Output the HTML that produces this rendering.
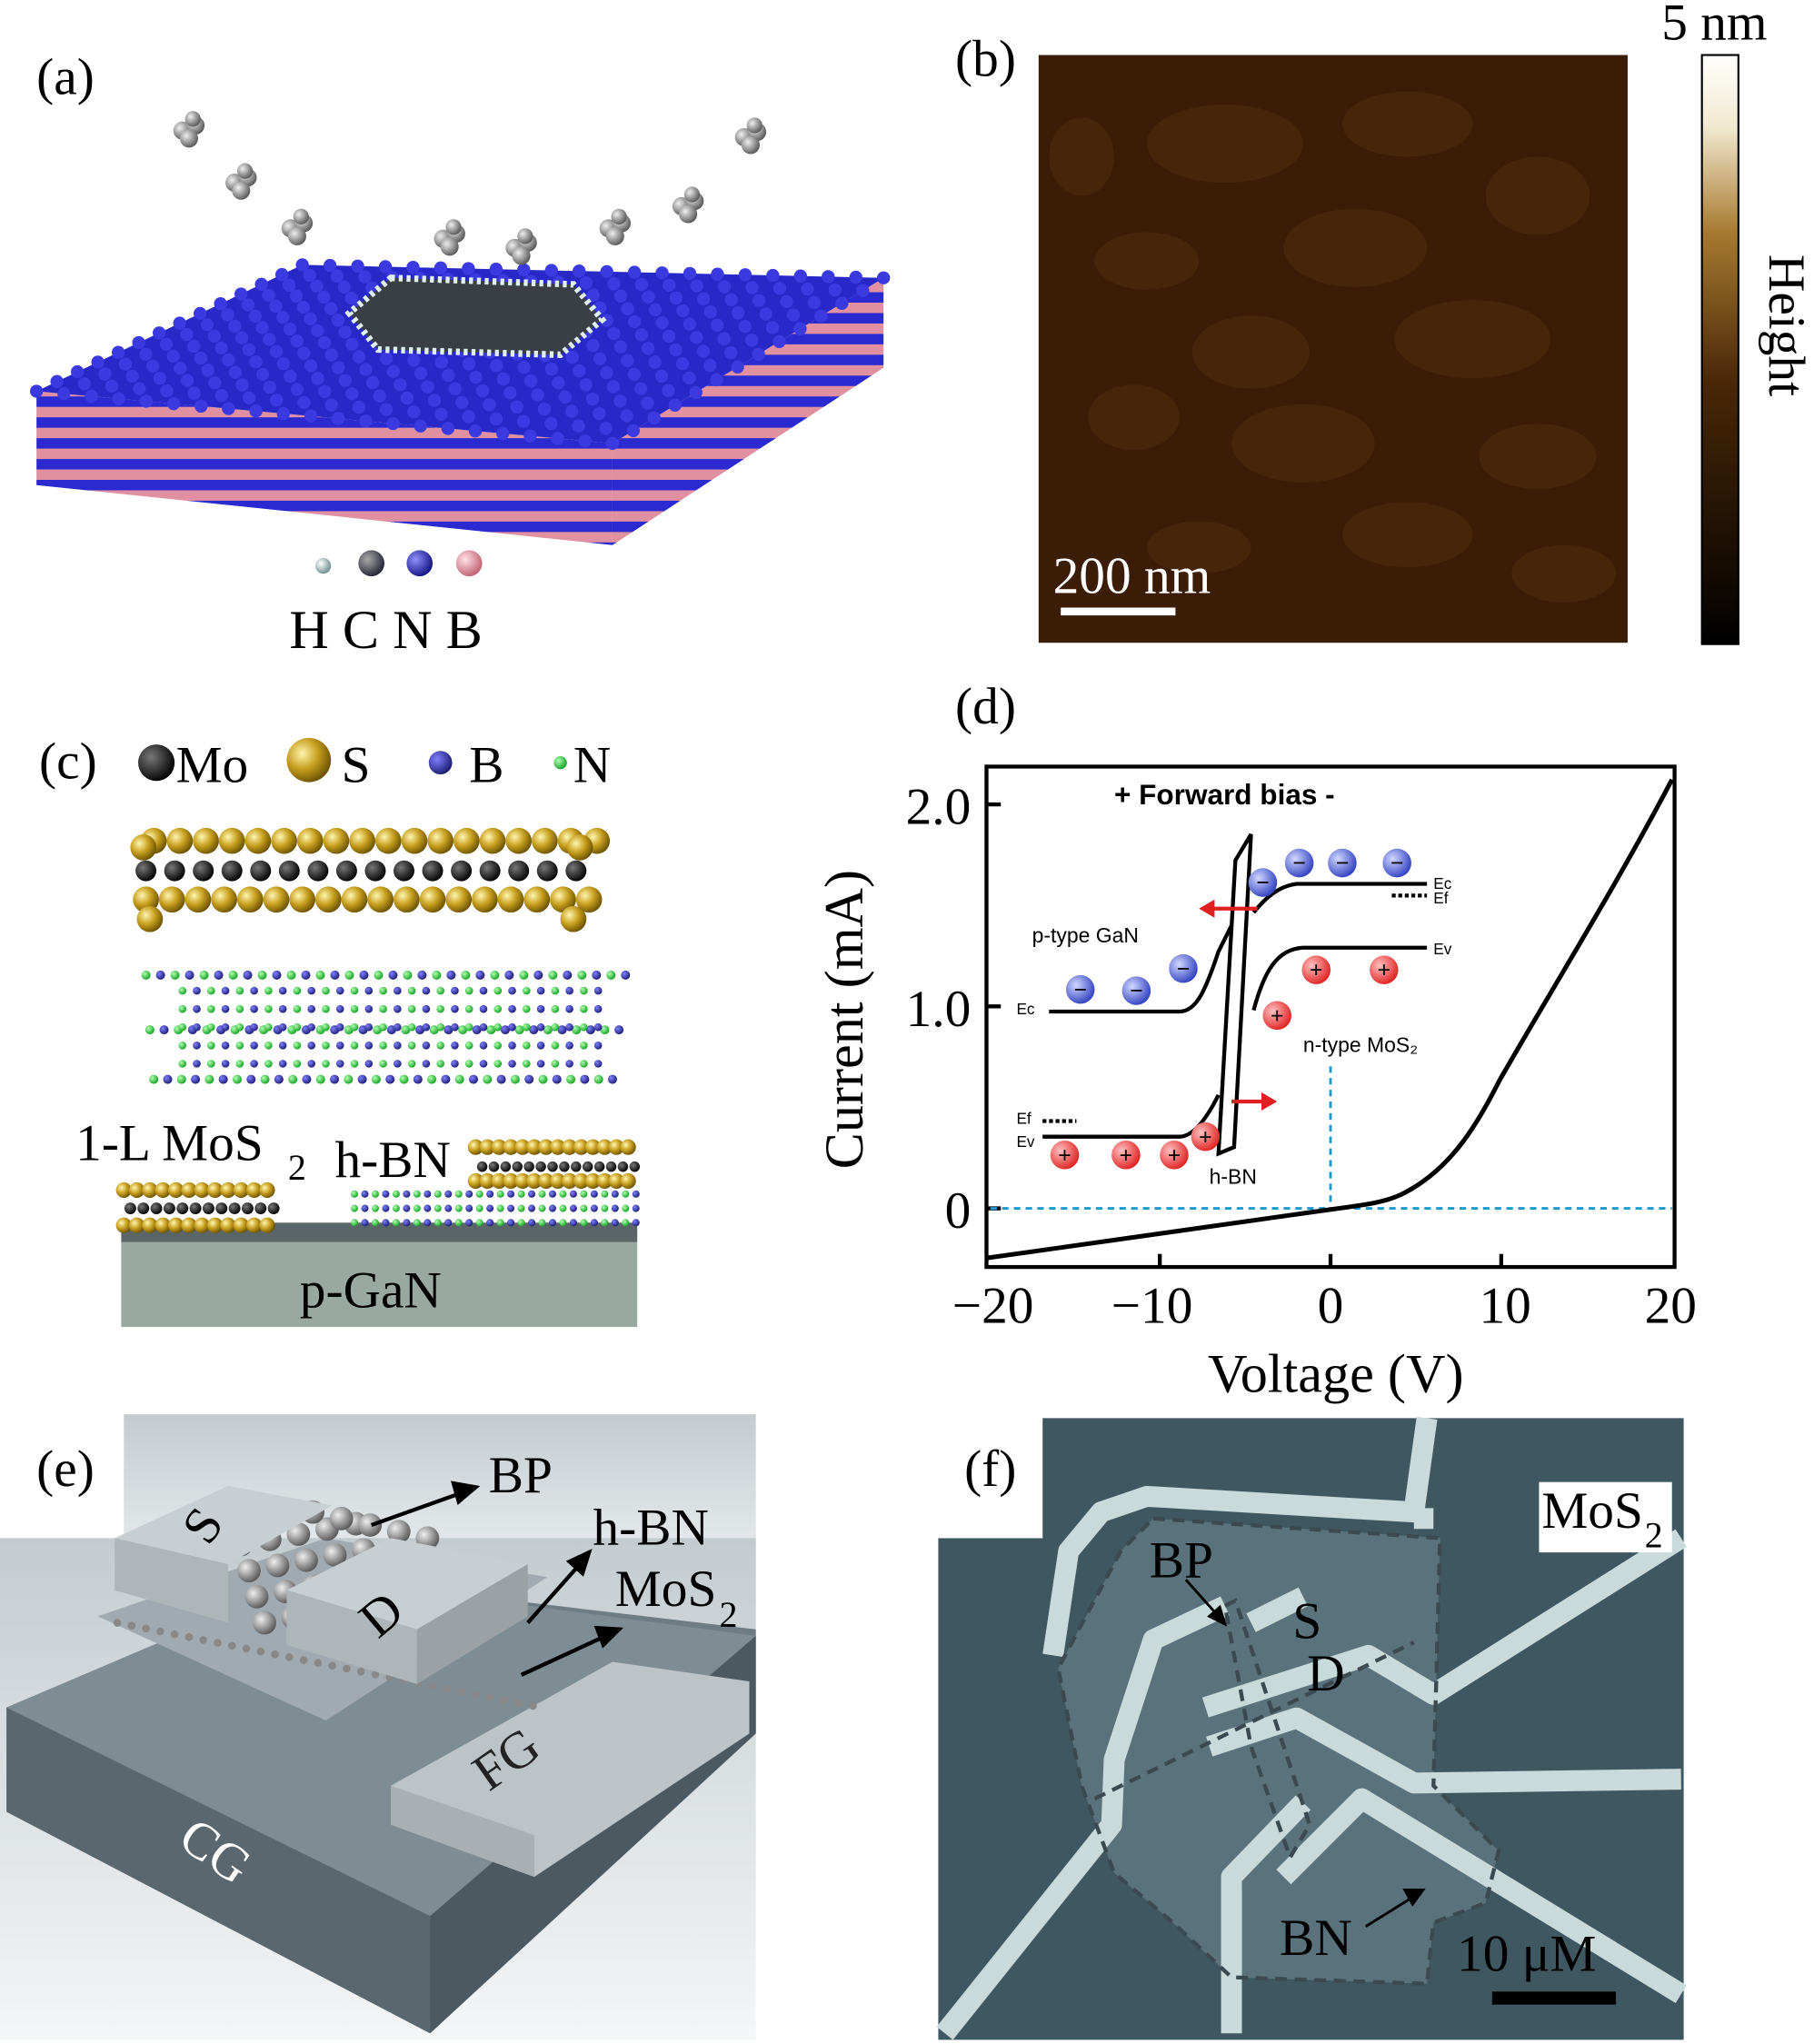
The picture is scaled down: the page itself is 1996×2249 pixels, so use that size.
<!DOCTYPE html>
<html><head><meta charset="utf-8">
<style>
html,body{margin:0;padding:0;background:#fff;}
svg{display:block;}
text{font-family:"Liberation Serif",serif;}
text.s{font-family:"Liberation Sans",sans-serif;}
</style></head>
<body>
<svg id="sv" width="1996" height="2249" viewBox="0 0 1392 1568" xmlns="http://www.w3.org/2000/svg">
<defs>
<linearGradient id="cb" x1="0" y1="0" x2="0" y2="1">
<stop offset="0" stop-color="#ffffff"/><stop offset="0.12" stop-color="#f2ead0"/><stop offset="0.3" stop-color="#a87a30"/><stop offset="0.55" stop-color="#4a2808"/><stop offset="1" stop-color="#000"/>
</linearGradient>
<linearGradient id="ebg" x1="0" y1="0" x2="0" y2="1">
<stop offset="0" stop-color="#c4ccd0"/><stop offset="1" stop-color="#f4f6f7"/>
</linearGradient>
<radialGradient id="gy" cx="0.35" cy="0.35" r="0.7"><stop offset="0" stop-color="#fff6b0"/><stop offset="0.5" stop-color="#c8a020"/><stop offset="1" stop-color="#6a5000"/></radialGradient>
<radialGradient id="gk" cx="0.35" cy="0.35" r="0.7"><stop offset="0" stop-color="#777"/><stop offset="1" stop-color="#000"/></radialGradient>
<radialGradient id="gb" cx="0.35" cy="0.35" r="0.7"><stop offset="0" stop-color="#8080ff"/><stop offset="1" stop-color="#1a1a70"/></radialGradient>
<radialGradient id="gg" cx="0.35" cy="0.35" r="0.7"><stop offset="0" stop-color="#b0ffb0"/><stop offset="1" stop-color="#10a020"/></radialGradient>
<radialGradient id="gw" cx="0.35" cy="0.35" r="0.7"><stop offset="0" stop-color="#fff"/><stop offset="1" stop-color="#6a8a8a"/></radialGradient>
<radialGradient id="gc" cx="0.35" cy="0.35" r="0.7"><stop offset="0" stop-color="#aaa"/><stop offset="1" stop-color="#223"/></radialGradient>
<radialGradient id="gbl" cx="0.35" cy="0.35" r="0.7"><stop offset="0" stop-color="#9090ff"/><stop offset="1" stop-color="#101080"/></radialGradient>
<radialGradient id="gp" cx="0.35" cy="0.35" r="0.7"><stop offset="0" stop-color="#ffe0e8"/><stop offset="1" stop-color="#c06070"/></radialGradient>
<radialGradient id="gr" cx="0.35" cy="0.35" r="0.7"><stop offset="0" stop-color="#ffc0c0"/><stop offset="1" stop-color="#e02020"/></radialGradient>
<radialGradient id="gbe" cx="0.35" cy="0.35" r="0.7"><stop offset="0" stop-color="#d0d8ff"/><stop offset="1" stop-color="#3040c0"/></radialGradient>
<radialGradient id="gs" cx="0.35" cy="0.35" r="0.7"><stop offset="0" stop-color="#eee"/><stop offset="1" stop-color="#555"/></radialGradient>
<pattern id="stripe" width="8" height="16" patternUnits="userSpaceOnUse"><rect width="8" height="16" fill="#2a2ad0"/><rect y="8" width="8" height="8" fill="#e090a0"/></pattern>
</defs>

<!-- (a) -->
<text x="28" y="72" font-size="40">(a)</text>
<polygon points="28,300 470,340 470,418 28,372" fill="url(#stripe)"/>
<polygon points="470,340 678,213 678,282 470,418" fill="url(#stripe)"/>
<polygon points="28,300 232,203 678,213 470,340" fill="#2828c8"/>
<g id="topdots"></g>
<polygon points="300,213 440,218 462,245 430,272 290,268 268,240" fill="#3a3f45" stroke="#e0f0f0" stroke-width="5" stroke-dasharray="3 3"/>
<g id="mols"></g>
<circle cx="248" cy="434" r="6" fill="url(#gw)"/>
<circle cx="285" cy="432" r="10" fill="url(#gc)"/>
<circle cx="322" cy="432" r="10" fill="url(#gbl)"/>
<circle cx="360" cy="432" r="10" fill="url(#gp)"/>
<text x="222" y="497" font-size="42">H C N B</text>

<!-- (b) -->
<text x="733" y="58" font-size="40">(b)</text>
<rect x="797" y="42" width="452" height="451" fill="#3a1c07"/>
<g fill="#48280c" opacity="0.9">
<ellipse cx="940" cy="110" rx="60" ry="30"/><ellipse cx="1080" cy="95" rx="50" ry="25"/><ellipse cx="1180" cy="150" rx="40" ry="30"/>
<ellipse cx="880" cy="200" rx="40" ry="22"/><ellipse cx="1040" cy="190" rx="55" ry="30"/><ellipse cx="960" cy="270" rx="45" ry="28"/>
<ellipse cx="1130" cy="260" rx="60" ry="30"/><ellipse cx="1000" cy="340" rx="55" ry="30"/><ellipse cx="1180" cy="350" rx="45" ry="25"/>
<ellipse cx="870" cy="320" rx="35" ry="25"/><ellipse cx="1080" cy="410" rx="50" ry="25"/><ellipse cx="920" cy="420" rx="40" ry="20"/>
<ellipse cx="1200" cy="440" rx="40" ry="22"/><ellipse cx="830" cy="120" rx="25" ry="30"/>
</g>
<text x="808" y="455" font-size="40" fill="#fff">200 nm</text>
<rect x="814" y="466" width="88" height="6" fill="#fff"/>
<rect x="1306" y="42" width="28" height="452" fill="url(#cb)" stroke="#000" stroke-width="1.5"/>
<text x="1275" y="30" font-size="40">5 nm</text>
<text x="0" y="0" font-size="40" transform="translate(1358,195) rotate(90)">Height</text>

<!-- (c) -->
<text x="30" y="597" font-size="40">(c)</text>
<circle cx="120" cy="585" r="14" fill="url(#gk)"/><text x="135" y="600" font-size="40">Mo</text>
<circle cx="237" cy="583" r="17" fill="url(#gy)"/><text x="262" y="600" font-size="40">S</text>
<circle cx="338" cy="585" r="9" fill="url(#gb)"/><text x="360" y="600" font-size="40">B</text>
<circle cx="430" cy="585" r="5" fill="url(#gg)"/><text x="440" y="600" font-size="40">N</text>
<g id="mos2"></g>
<g id="hbn"></g>
<text x="58" y="890" font-size="40">1-L MoS</text><text x="221" y="905" font-size="28">2</text>
<text x="257" y="903" font-size="40">h-BN</text>
<rect x="93" y="938" width="396" height="15" fill="#5a6568"/>
<rect x="93" y="953" width="396" height="65" fill="#9aa8a2"/>
<text x="230" y="1003" font-size="40">p-GaN</text>
<g id="cbot"></g>

<!-- (d) -->
<text x="733" y="555" font-size="40">(d)</text>
<rect x="757" y="588" width="528" height="384" fill="none" stroke="#000" stroke-width="3"/>
<g stroke="#000" stroke-width="3">
<line x1="757" y1="617" x2="768" y2="617"/><line x1="757" y1="772" x2="768" y2="772"/><line x1="757" y1="927" x2="768" y2="927"/>
<line x1="890" y1="972" x2="890" y2="962"/><line x1="1021" y1="972" x2="1021" y2="962"/><line x1="1152" y1="972" x2="1152" y2="962"/>
</g>
<g font-size="40" text-anchor="end"><text x="745" y="632">2.0</text><text x="745" y="787">1.0</text><text x="745" y="942">0</text></g>
<g font-size="40" text-anchor="middle"><text x="762" y="1015">−20</text><text x="884" y="1015">−10</text><text x="1021" y="1015">0</text><text x="1155" y="1015">10</text><text x="1282" y="1015">20</text></g>
<text x="1025" y="1068" font-size="42" text-anchor="middle">Voltage (V)</text>
<text x="0" y="0" font-size="42" text-anchor="middle" transform="translate(662,782) rotate(-90)">Current (mA)</text>
<line x1="760" y1="927" x2="1283" y2="927" stroke="#1a9ad0" stroke-width="2" stroke-dasharray="5 4"/>
<line x1="1021" y1="818" x2="1021" y2="927" stroke="#1a9ad0" stroke-width="2" stroke-dasharray="5 4"/>
<path d="M758,965 L1020,928 C1050,924 1065,922 1078,915 C1110,898 1130,870 1150,830 C1190,760 1240,680 1283,598" fill="none" stroke="#000" stroke-width="3.5"/>
<!-- inset -->
<g>
<text x="855" y="617" font-size="22" font-weight="bold" class="s">+ Forward bias -</text>
<path d="M805,776 L905,776 C918,776 925,760 935,730 L945,710" fill="none" stroke="#000" stroke-width="3"/>
<path d="M800,872 L905,872 C915,872 925,860 935,840" fill="none" stroke="#000" stroke-width="3"/>
<polygon points="935,885 948,660 960,640 947,880" fill="none" stroke="#000" stroke-width="3"/>
<path d="M962,700 C970,690 980,680 995,678 L1095,678" fill="none" stroke="#000" stroke-width="3"/>
<path d="M962,775 C970,745 980,728 1000,727 L1095,727" fill="none" stroke="#000" stroke-width="3"/>
<line x1="1068" y1="687" x2="1095" y2="687" stroke="#000" stroke-width="3" stroke-dasharray="3 2"/>
<line x1="800" y1="860" x2="826" y2="860" stroke="#000" stroke-width="3" stroke-dasharray="3 2"/>
<g font-size="12"><text class="s" x="1100" y="682">Ec</text><text class="s" x="1100" y="693">Ef</text><text class="s" x="1100" y="732">Ev</text><text class="s" x="780" y="778">Ec</text><text class="s" x="780" y="862">Ef</text><text class="s" x="780" y="880">Ev</text></g>
<text class="s" x="792" y="723" font-size="16">p-type GaN</text>
<text class="s" x="1000" y="807" font-size="16">n-type MoS₂</text>
<text class="s" x="928" y="908" font-size="16">h-BN</text>
<line x1="965" y1="697" x2="925" y2="697" stroke="#e02020" stroke-width="3"/><polygon points="920,697 932,690 932,704" fill="#e02020"/>
<line x1="945" y1="845" x2="975" y2="845" stroke="#e02020" stroke-width="3"/><polygon points="980,845 968,838 968,852" fill="#e02020"/>
</g>
<g id="charges"></g>

<!-- (e) -->
<rect x="95" y="1085" width="485" height="150" fill="url(#ebg)"/>
<rect x="0" y="1180" width="580" height="385" fill="url(#ebg)"/>
<polygon points="5,1310 240,1210 580,1250 580,1330 330,1560 5,1390" fill="#6e7c84"/>
<polygon points="5,1310 330,1470 330,1560 5,1390" fill="#5a676e"/>
<polygon points="330,1470 580,1255 580,1330 330,1560" fill="#4c5960"/>
<polygon points="5,1310 240,1210 580,1255 330,1470" fill="#7e8c93"/>
<polygon points="300,1370 470,1275 575,1290 575,1330 410,1440 300,1400" fill="#bcc4c8"/>
<polygon points="300,1370 410,1408 410,1440 300,1400" fill="#a8b0b4"/>
<polygon points="75,1240 250,1180 420,1210 250,1320" fill="#a0aab0"/>
<g id="eatoms"></g>
<polygon points="88,1180 175,1140 255,1155 175,1200" fill="#c7cfd3"/>
<polygon points="88,1180 175,1200 175,1245 88,1220" fill="#aeb6ba"/>
<polygon points="220,1220 300,1180 405,1200 320,1250" fill="#c7cfd3"/>
<polygon points="220,1220 320,1250 320,1292 220,1262" fill="#aeb6ba"/>
<polygon points="320,1250 405,1200 405,1240 320,1292" fill="#9aa2a6"/>
<text x="0" y="0" font-size="40" transform="translate(160,1187) rotate(-55)">S</text>
<text x="0" y="0" font-size="40" transform="translate(290,1258) rotate(-40)">D</text>
<text x="0" y="0" font-size="40" fill="#222" transform="translate(375,1375) rotate(-35)">FG</text>
<text x="0" y="0" font-size="40" fill="#fff" transform="translate(135,1415) rotate(35)">CG</text>
<text x="28" y="1140" font-size="40">(e)</text>
<text x="375" y="1145" font-size="40">BP</text>
<text x="455" y="1185" font-size="40">h-BN</text>
<text x="472" y="1232" font-size="40">MoS</text><text x="552" y="1248" font-size="28">2</text>
<g stroke="#000" stroke-width="3" fill="#000">
<line x1="285" y1="1170" x2="355" y2="1145"/><polygon points="365,1141 348,1138 352,1152"/>
<line x1="405" y1="1245" x2="445" y2="1200"/><polygon points="452,1191 437,1198 447,1207"/>
<line x1="400" y1="1285" x2="465" y2="1255"/><polygon points="475,1250 458,1249 463,1262"/>
</g>

<!-- (f) -->
<polygon points="800,1088 1292,1088 1292,1565 720,1565 720,1180 800,1180" fill="#3f5761"/>
<polygon points="885,1165 1105,1180 1100,1370 1150,1420 1140,1460 1100,1475 1095,1522 945,1517 900,1475 855,1437 830,1370 812,1280 860,1190" fill="#5a727b"/>
<g stroke="#c9dadb" stroke-width="16" fill="none" stroke-linejoin="round">
<path d="M808,1270 L820,1190 L845,1160 L880,1148 L1085,1160 L1095,1088"/>
<path d="M1085,1165 L1100,1165"/>
<path d="M940,1232 L885,1258 L855,1350 L853,1400 L725,1560"/>
<path d="M1000,1225 L960,1245"/>
<path d="M925,1310 L1050,1270 L1100,1300 L1290,1180"/>
<path d="M928,1340 L995,1318 L1085,1368 L1290,1365"/>
<path d="M1000,1383 L945,1440 L945,1560"/>
<path d="M985,1440 L1045,1380 L1290,1530"/>
</g>
<g stroke="#3a4a50" stroke-width="3" fill="none" stroke-dasharray="9 6">
<polygon points="885,1165 1105,1180 1100,1370 1150,1420 1140,1460 1100,1475 1095,1522 945,1517 900,1475 855,1437 830,1370 812,1280 860,1190"/>
<polygon points="940,1232 948,1228 1005,1400 990,1425 960,1340"/>
<line x1="840" y1="1380" x2="1085" y2="1260"/>
</g>
<rect x="720" y="1088" width="80" height="92" fill="#fff"/>
<text x="740" y="1140" font-size="40">(f)</text>
<rect x="1181" y="1137" width="102" height="54" fill="#fff"/>
<text x="1183" y="1172" font-size="40">MoS</text><text x="1262" y="1187" font-size="28">2</text>
<text x="882" y="1210" font-size="40">BP</text>
<text x="992" y="1257" font-size="40">S</text>
<text x="1003" y="1297" font-size="40">D</text>
<text x="982" y="1500" font-size="40">BN</text>
<text x="1118" y="1512" font-size="40">10 μM</text>
<rect x="1145" y="1528" width="95" height="10" fill="#000"/>
<g stroke="#000" stroke-width="2" fill="#000">
<line x1="910" y1="1212" x2="935" y2="1240"/><polygon points="940,1246 928,1240 936,1233"/>
<line x1="1048" y1="1478" x2="1085" y2="1455"/><polygon points="1092,1450 1078,1450 1084,1461"/>
</g>
</svg>
<script>
var NS="http://www.w3.org/2000/svg";
function C(g,x,y,r,f){var c=document.createElementNS(NS,"circle");c.setAttribute("cx",x);c.setAttribute("cy",y);c.setAttribute("r",r);c.setAttribute("fill",f);document.getElementById(g).appendChild(c);}
for(var i=0;i<22;i++)for(var j=0;j<14;j++){var u=i/21,v=j/13;
var x=(1-u)*(1-v)*28+u*(1-v)*470+u*v*678+(1-u)*v*232;
var y=(1-u)*(1-v)*300+u*(1-v)*340+u*v*213+(1-u)*v*203;C("topdots",x,y,5,"#3a3ae0");}
[[145,100],[185,140],[228,175],[345,183],[400,190],[472,175],[528,158],[576,105]].forEach(function(p){
C("mols",p[0]-5,p[1],7,"url(#gs)");C("mols",p[0]+5,p[1]-4,7,"url(#gs)");C("mols",p[0],p[1]+6,7,"url(#gs)");C("mols",p[0]+3,p[1]-9,6,"url(#gs)");});
for(var i=0;i<16;i++){var x=112+i*22;C("mos2",x,668,8,"url(#gk)");}
for(var i=0;i<18;i++){var x=110+i*20;C("mos2",x+8,645,10,"url(#gy)");C("mos2",x+2,690,10,"url(#gy)");}
C("mos2",110,650,10,"url(#gy)");C("mos2",445,650,10,"url(#gy)");C("mos2",115,705,10,"url(#gy)");C("mos2",440,705,10,"url(#gy)");
[[748,112,480],[790,115,475],[828,118,470]].forEach(function(L){for(var i=0;i<34;i++){var x=L[1]+i*(L[2]-L[1])/33;C("hbn",x,L[0],3.5,i%2?"url(#gb)":"url(#gg)");}});
for(var k=0;k<5;k++){for(var i=0;i<30;i++){var x=140+i*11;C("hbn",x,760+k*14,3,i%2?"url(#gb)":"url(#gg)");}}
for(var i=0;i<12;i++){C("cbot",95+i*10,913,6,"url(#gy)");C("cbot",95+i*10,940,6,"url(#gy)");C("cbot",100+i*10,927,4.5,"url(#gk)");}
for(var i=0;i<14;i++){C("cbot",365+i*9,880,6,"url(#gy)");C("cbot",370+i*9,895,4,"url(#gk)");C("cbot",365+i*9,906,6,"url(#gy)");}
for(var k=0;k<3;k++)for(var i=0;i<28;i++){C("cbot",272+i*8,916+k*11,2.8,i%2?"url(#gb)":"url(#gg)");}
[[829,759],[872,760],[908,743],[969,677],[997,662],[1030,662],[1072,662]].forEach(function(p){C("charges",p[0],p[1],11,"url(#gbe)");var t=document.createElementNS(NS,"text");t.setAttribute("x",p[0]);t.setAttribute("y",p[1]+6);t.setAttribute("font-size","18");t.setAttribute("text-anchor","middle");t.setAttribute("font-weight","bold");t.textContent="−";document.getElementById("charges").appendChild(t);});
[[817,886],[864,886],[901,886],[925,872],[980,779],[1010,744],[1062,744]].forEach(function(p){C("charges",p[0],p[1],11,"url(#gr)");var t=document.createElementNS(NS,"text");t.setAttribute("x",p[0]);t.setAttribute("y",p[1]+6);t.setAttribute("font-size","18");t.setAttribute("text-anchor","middle");t.setAttribute("font-weight","bold");t.textContent="+";document.getElementById("charges").appendChild(t);});
for(var k=0;k<4;k++)for(var i=0;i<5;i++){C("eatoms",185+i*22+k*6,1185+k*20-i*4,9,"url(#gs)");}
for(var i=0;i<5;i++)C("eatoms",240+i*22,1190+i*5-30,9,"url(#gs)");
for(var i=0;i<30;i++)C("eatoms",90+i*11,1245+i*2.2,3,"#888");
</script>
</body></html>
